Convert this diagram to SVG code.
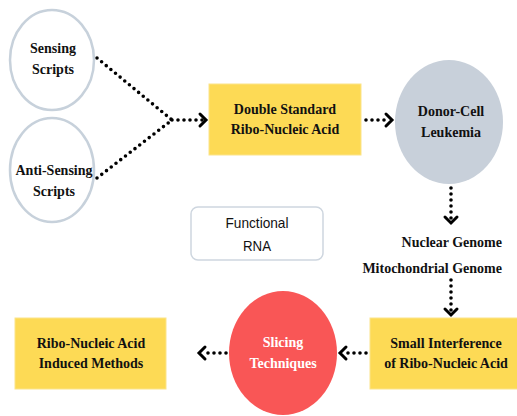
<svg xmlns="http://www.w3.org/2000/svg" width="517" height="416" viewBox="0 0 517 416">
<defs>
<style>
.txt{font-family:"Liberation Serif","DejaVu Serif",serif;font-weight:bold;font-size:14px;fill:#111;text-anchor:middle}
.thin{font-family:"Liberation Sans",sans-serif;font-size:15px;fill:#111;text-anchor:middle}
.yel{fill:#FDDA55;stroke:#FBE48A;stroke-width:1}
.dot{fill:none;stroke:#000;stroke-width:3.6;stroke-linecap:round;stroke-dasharray:0 6}
.head{fill:none;stroke:#000;stroke-width:3;stroke-linecap:round;stroke-linejoin:miter}
</style>
</defs>
<rect width="517" height="416" fill="#fff"/>
<g id="connectors">
<path class="dot" d="M97 58 L172 120"/>
<path class="dot" d="M97 178 L172 120"/>
<path class="dot" d="M172 120 L203 120"/>
<path class="head" d="M200 114 L206 120 L200 126"/>
<path class="dot" d="M366 120 L390 120"/>
<path class="head" d="M386 114 L392 120 L386 126"/>
<path class="dot" d="M451 188 L451 220"/>
<path class="head" d="M445 217 L451 223 L457 217"/>
<path class="dot" d="M451 280 L451 312"/>
<path class="head" d="M445 309 L451 315 L457 309"/>
<path class="dot" d="M366 353 L343 353"/>
<path class="head" d="M346 347 L340 353 L346 359"/>
<path class="dot" d="M226 353 L203 353"/>
<path class="head" d="M205 347 L199 353 L205 359"/>
</g>
<g id="sensing">
<ellipse cx="52" cy="60" rx="42" ry="50" fill="#fff" stroke="#C7D1DB" stroke-width="2.5"/>
<text class="txt" x="53" y="53">Sensing</text>
<text class="txt" x="53" y="74">Scripts</text>
</g>
<g id="antisensing">
<ellipse cx="52" cy="170" rx="42" ry="52" fill="#fff" stroke="#C7D1DB" stroke-width="2.5"/>
<text class="txt" x="54" y="175">Anti-Sensing</text>
<text class="txt" x="54" y="196">Scripts</text>
</g>
<g id="dsrna">
<rect class="yel" x="209" y="84" width="152" height="71"/>
<text class="txt" x="285" y="114">Double Standard</text>
<text class="txt" x="285" y="134">Ribo-Nucleic Acid</text>
</g>
<g id="donor">
<ellipse cx="449" cy="122" rx="54" ry="62" fill="#C8D0DA"/>
<text class="txt" x="451" y="116">Donor-Cell</text>
<text class="txt" x="451" y="137">Leukemia</text>
</g>
<g id="functional">
<rect x="191" y="207" width="132" height="53" rx="7" fill="#fff" stroke="#CED6DF" stroke-width="1.5"/>
<text class="thin" x="257" y="228" textLength="63" lengthAdjust="spacingAndGlyphs">Functional</text>
<text class="thin" x="257" y="251" textLength="28" lengthAdjust="spacingAndGlyphs">RNA</text>
</g>
<g id="genome">
<text class="txt" x="502" y="247" style="text-anchor:end">Nuclear Genome</text>
<text class="txt" x="502" y="273" style="text-anchor:end">Mitochondrial Genome</text>
</g>
<g id="sirna">
<rect class="yel" x="370" y="318" width="150" height="71"/>
<text class="txt" x="446" y="348">Small Interference</text>
<text class="txt" x="446" y="368">of Ribo-Nucleic Acid</text>
</g>
<g id="slicing">
<ellipse cx="283" cy="353" rx="54" ry="62" fill="#F95656"/>
<text class="txt" x="283" y="347" style="fill:#fff">Slicing</text>
<text class="txt" x="283" y="368" style="fill:#fff">Techniques</text>
</g>
<g id="induced">
<rect class="yel" x="15" y="318" width="151" height="71"/>
<text class="txt" x="91" y="348">Ribo-Nucleic Acid</text>
<text class="txt" x="91" y="368">Induced Methods</text>
</g>
</svg>
